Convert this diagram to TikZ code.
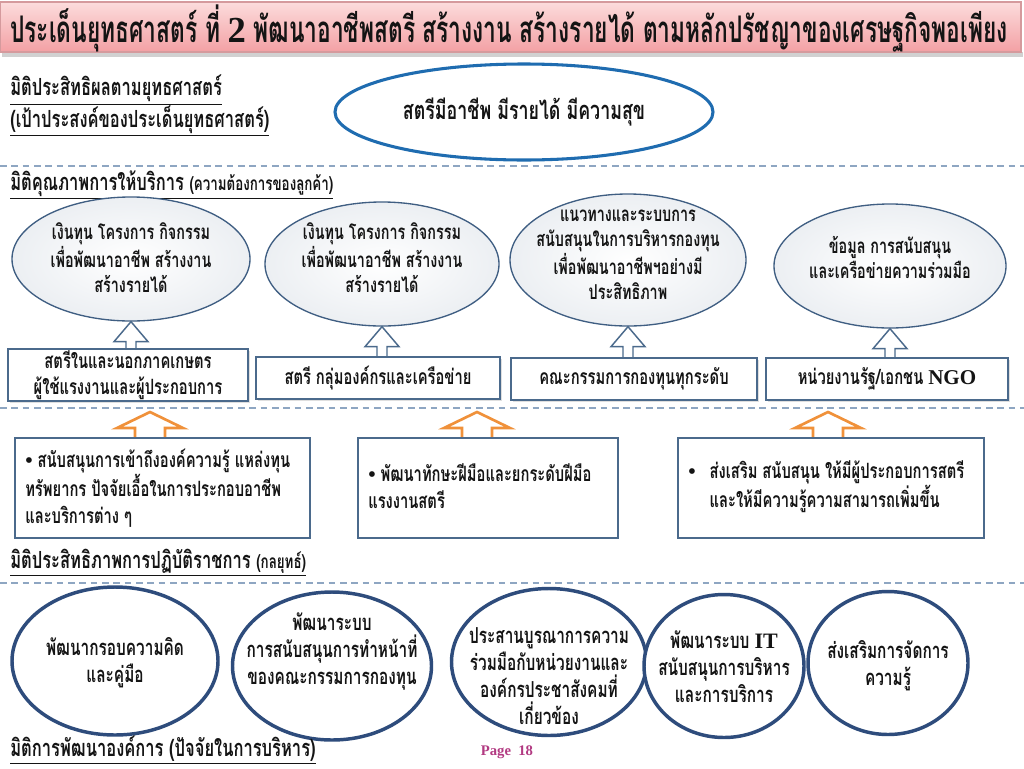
\documentclass[tikz,border=0pt]{standalone}
\usepackage{fontspec}
\setmainfont[Script=Thai,FakeStretch=0.7]{Loma}
\newfontfamily\titlefont[Script=Thai,FakeStretch=0.62]{Loma}
\newfontfamily\lat{Liberation Serif}
\usetikzlibrary{calc,shapes.geometric,shadows}
\definecolor{barTop}{HTML}{FCDCDC}
\definecolor{barBot}{HTML}{F3A0A4}
\definecolor{barLine}{HTML}{D59A9D}
\definecolor{dashC}{HTML}{8EA6C2}
\definecolor{goalC}{HTML}{1F6CB0}
\definecolor{ovalC}{HTML}{3F5E82}
\definecolor{boxC}{HTML}{4B6A8C}
\definecolor{orgC}{HTML}{2E4C7C}
\definecolor{arrO}{HTML}{F0913A}
\definecolor{pageC}{HTML}{B23A82}
\definecolor{inkC}{HTML}{141414}
\newcommand\hollowup[6]{%
  \draw[#1] let \p1=(#2), \p2=(#3) in
    (\x2-#5*0.75pt,\y1) -- (\x2-#5*0.75pt,\y2-#6*0.75pt) -- (\x2-#4*0.75pt,\y2-#6*0.75pt)
    -- (\x2,\y2) -- (\x2+#4*0.75pt,\y2-#6*0.75pt) -- (\x2+#5*0.75pt,\y2-#6*0.75pt)
    -- (\x2+#5*0.75pt,\y1);}
\tikzset{
  txt/.style={inner sep=0, text=inkC, align=center},
  titletext/.style={txt, anchor=west, font=\titlefont\bfseries\fontsize{27.5}{33}\selectfont},
  seclabel/.style={txt, anchor=west, align=left, font=\bfseries\fontsize{17.7}{21}\selectfont},
  divider/.style={dashC, line width=1.1pt, dash pattern=on 5pt off 3.5pt},
  goal/.style={ellipse, draw=goalC, line width=2.3pt, fill=white, inner sep=0},
  goaltext/.style={txt, font=\bfseries\fontsize{19.1}{23}\selectfont},
  svc/.style={ellipse, draw=ovalC, line width=1pt, inner color=white, outer color=ovalC!10, inner sep=0},
  svctext/.style={txt, font=\bfseries\fontsize{15.4}{18.75}\selectfont},
  bluebox/.style={rectangle, draw=boxC, line width=1.6pt, fill=white, inner sep=0,
    drop shadow={opacity=0.25, shadow xshift=1.2pt, shadow yshift=-1.2pt}},
  boxtext/.style={txt, font=\bfseries\fontsize{15.8}{20}\selectfont},
  bluearrow/.style={draw=boxC, line width=1.1pt, line join=miter},
  orangearrow/.style={draw=arrO, line width=2pt, line join=miter},
  actbox/.style={rectangle, draw=boxC, line width=1.6pt, fill=white, inner sep=0},
  acttext/.style={txt, anchor=west, align=left, font=\bfseries\fontsize{15.8}{20.25}\selectfont},
  org/.style={ellipse, draw=orgC, line width=2.6pt, fill=white, inner sep=0},
  orgtext/.style={txt, font=\bfseries\fontsize{16.5}{20.25}\selectfont},
  pagetext/.style={inner sep=0, text=pageC, font=\lat\bfseries\fontsize{11}{13}\selectfont}
}
\begin{document}
\begin{tikzpicture}[x=0.75pt,y=-0.75pt]
\useasboundingbox (0,0) rectangle (1024,768);
\fill[white] (0,0) rectangle (1024,768);
% title bar
\fill[black!18] (2,52) rectangle (1023,57);
\shade[top color=barTop,bottom color=barBot,draw=barLine,line width=0.8pt] (0,2) rectangle (1021,52);
\node[titletext] (title) at (10,28) {ประเด็นยุทธศาสตร์ ที่ {\lat 2} พัฒนาอาชีพสตรี สร้างงาน สร้างรายได้ ตามหลักปรัชญาของเศรษฐกิจพอเพียง};
% section 1
\node[seclabel] (l1a) at (10,90) {\underline{มิติประสิทธิผลตามยุทธศาสตร์}};
\node[seclabel] (l1b) at (10,121) {\underline{(เป้าประสงค์ของประเด็นยุทธศาสตร์)}};
\node[goal, minimum width=378*0.75pt, minimum height=96*0.75pt] (goal) at (524,112) {};
\node[goaltext] (goalt) at (goal) {สตรีมีอาชีพ มีรายได้ มีความสุข};
\draw[divider] (0,166) -- (1024,166);
% section 2
\node[seclabel] (l2) at (10,185) {\underline{มิติคุณภาพการให้บริการ {\fontsize{14.3}{17}\selectfont (ความต้องการของลูกค้า)}}};
\node[svc, minimum width=238*0.75pt, minimum height=124*0.75pt] (e1) at (131,259) {};
\node[svc, minimum width=234*0.75pt, minimum height=124*0.75pt] (e2) at (382,264) {};
\node[svc, minimum width=236*0.75pt, minimum height=132*0.75pt] (e3) at (628,260) {};
\node[svc, minimum width=232*0.75pt, minimum height=124*0.75pt] (e4) at (890,266) {};
\node[svctext] (t1) at (131,258) {เงินทุน โครงการ กิจกรรม\\เพื่อพัฒนาอาชีพ สร้างงาน\\สร้างรายได้};
\node[svctext] (t2) at (382,258) {เงินทุน โครงการ กิจกรรม\\เพื่อพัฒนาอาชีพ สร้างงาน\\สร้างรายได้};
\node[svctext] (t3) at (628,255) {แนวทางและระบบการ\\สนับสนุนในการบริหารกองทุน\\เพื่อพัฒนาอาชีพฯอย่างมี\\ประสิทธิภาพ};
\node[svctext] (t4) at (890,257) {ข้อมูล การสนับสนุน\\และเครือข่ายความร่วมมือ};
\node[bluebox, minimum width=240*0.75pt, minimum height=52*0.75pt] (b1) at (128,375) {};
\node[bluebox, minimum width=244*0.75pt, minimum height=42*0.75pt] (b2) at (378,378) {};
\node[bluebox, minimum width=246*0.75pt, minimum height=42*0.75pt] (b3) at (634,379) {};
\node[bluebox, minimum width=242*0.75pt, minimum height=42*0.75pt] (b4) at (887,379) {};
\node[boxtext] (bt1) at (b1) {สตรีในและนอกภาคเกษตร\\ผู้ใช้แรงงานและผู้ประกอบการ};
\node[boxtext] (bt2) at (b2) {สตรี กลุ่มองค์กรและเครือข่าย};
\node[boxtext] (bt3) at (b3) {คณะกรรมการกองทุนทุกระดับ};
\node[boxtext] (bt4) at (b4) {หน่วยงานรัฐ/เอกชน {\lat NGO}};
\hollowup{bluearrow}{b1.north}{e1.south}{17}{5}{20}
\hollowup{bluearrow}{b2.north}{e2.south}{17}{5}{20}
\hollowup{bluearrow}{b3.north}{e3.south}{17}{5}{20}
\hollowup{bluearrow}{b4.north}{e4.south}{17}{5}{20}
\draw[divider] (0,408) -- (1024,408);
% actions
\node[actbox, minimum width=295*0.75pt, minimum height=100*0.75pt] (ba) at (162.5,488) {};
\node[actbox, minimum width=260*0.75pt, minimum height=100*0.75pt] (bb) at (488,488) {};
\node[actbox, minimum width=306*0.75pt, minimum height=100*0.75pt] (bc) at (831,488) {};
\node[acttext] (ta) at (25,488.5) {{\lat•} สนับสนุนการเข้าถึงองค์ความรู้ แหล่งทุน\\ทรัพยากร ปัจจัยเอื้อในการประกอบอาชีพ\\และบริการต่าง ๆ};
\node[acttext] (tb) at (368,486.5) {{\lat•} พัฒนาทักษะฝีมือและยกระดับฝีมือ\\แรงงานสตรี};
\node[acttext] (tc) at (688,486.5) {\makebox[16pt][l]{\lat•}ส่งเสริม สนับสนุน ให้มีผู้ประกอบการสตรี\\\hspace*{16pt}และให้มีความรู้ความสามารถเพิ่มขึ้น};
\coordinate (oa1) at (150,412);
\coordinate (oa2) at (477,412);
\coordinate (oa3) at (828,412);
\hollowup{orangearrow}{ba.north}{oa1}{33}{15}{16}
\hollowup{orangearrow}{bb.north}{oa2}{33}{15}{16}
\hollowup{orangearrow}{bc.north}{oa3}{33}{15}{16}
\node[seclabel] (l3) at (10,563) {\underline{มิติประสิทธิภาพการปฏิบัติราชการ {\fontsize{14.3}{17}\selectfont (กลยุทธ์)}}};
\draw[divider] (0,583) -- (1024,583);
% organisation
\node[org, minimum width=206*0.75pt, minimum height=148*0.75pt] (o1) at (115,661) {};
\node[org, minimum width=199*0.75pt, minimum height=148*0.75pt] (o2) at (332,666) {};
\node[org, minimum width=195*0.75pt, minimum height=147*0.75pt] (o3) at (549,662) {};
\node[org, minimum width=160*0.75pt, minimum height=143*0.75pt] (o4) at (724,666) {};
\node[org, minimum width=160*0.75pt, minimum height=143*0.75pt] (o5) at (888,663) {};
\node[orgtext] (ot1) at (115,663) {พัฒนากรอบความคิด\\และคู่มือ};
\node[orgtext] (ot2) at (332,651) {พัฒนาระบบ\\การสนับสนุนการทำหน้าที่\\ของคณะกรรมการกองทุน};
\node[orgtext] (ot3) at (549,676) {ประสานบูรณาการความ\\ร่วมมือกับหน่วยงานและ\\องค์กรประชาสังคมที่\\เกี่ยวข้อง};
\node[orgtext] (ot4) at (724,667) {พัฒนาระบบ {\lat IT}\\สนับสนุนการบริหาร\\และการบริการ};
\node[orgtext] (ot5) at (888,666) {ส่งเสริมการจัดการ\\ความรู้};
\node[seclabel] (l4) at (10,750) {\underline{มิติการพัฒนาองค์การ (ปัจจัยในการบริหาร)}};
\node[pagetext] (page) at (507,752) {Page\ \ 18};
\end{tikzpicture}
\end{document}
